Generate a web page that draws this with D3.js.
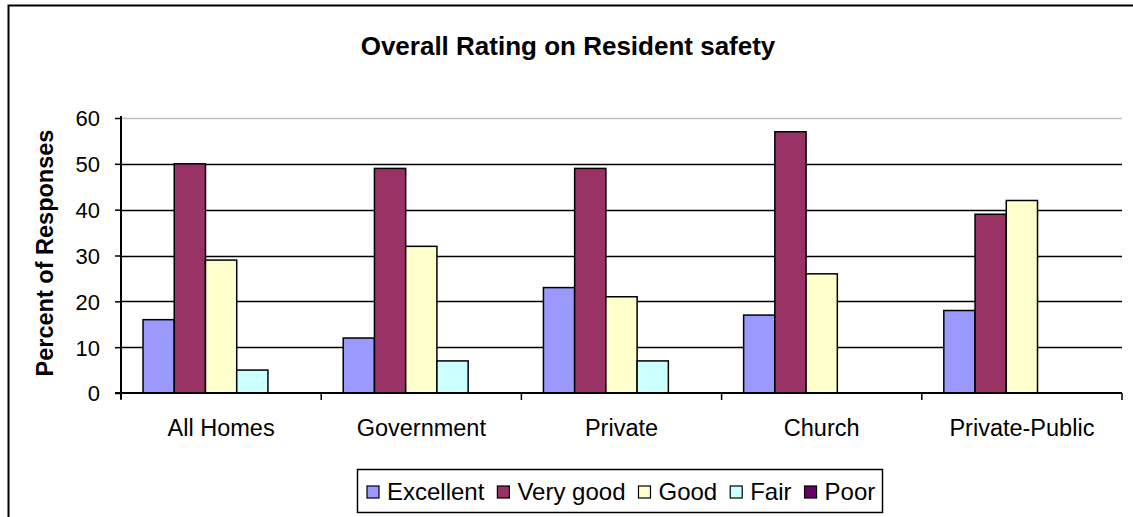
<!DOCTYPE html>
<html>
<head>
<meta charset="utf-8">
<script src="https://cdn.jsdelivr.net/npm/d3@7"></script>
<style>
  body { margin: 0; background: #fff; }
  text { font-family: "Liberation Sans", Arial, sans-serif; fill: #000; }
</style>
</head>
<body>
<script>
// chart data
const categories = ["All Homes", "Government", "Private", "Church", "Private-Public"];
const seriesNames = ["Excellent", "Very good", "Good", "Fair", "Poor"];
const excellent = [16, 12, 23, 17, 18];
const veryGood  = [50, 49, 49, 57, 39];
const good      = [29, 32, 21, 26, 42];
const fair      = [5, 7, 7, 0, 0];
const poor      = [0, 0, 0, 0, 0];
const yTicks    = [0, 10, 20, 30, 40, 50, 60];
const colors    = ["#9999FF", "#993366", "#FFFFCC", "#CCFFFF", "#660066"];

const allValues = [excellent, veryGood, good, fair, poor];

const W = 1133, H = 517;
const plotL = 121, plotR = 1122, plotT = 118, plotB = 393;

const svg = d3.select("body").append("svg")
  .attr("width", W)
  .attr("height", H);

// outer chart frame (runs off the right/bottom edge)
svg.append("rect")
  .attr("x", 8.5).attr("y", 5.5)
  .attr("width", 1140).attr("height", 530)
  .attr("fill", "#fff")
  .attr("stroke", "#000")
  .attr("stroke-width", 2);

const x0 = d3.scaleBand().domain(categories).range([plotL, plotR]);
const x1 = d3.scaleBand().domain(seriesNames)
  .range([0, x0.bandwidth()])
  .paddingOuter(0.705);
const y = d3.scaleLinear().domain([0, 60]).range([plotB, plotT]);

// plot area top border (grey)
svg.append("line")
  .attr("x1", plotL).attr("x2", plotR)
  .attr("y1", y(60) + 0.5).attr("y2", y(60) + 0.5)
  .attr("stroke", "#c0c0c0").attr("stroke-width", 1.5);

// gridlines
svg.append("g")
  .selectAll("line")
  .data(yTicks.filter(d => d > 0 && d < 60))
  .enter().append("line")
  .attr("x1", plotL).attr("x2", plotR)
  .attr("y1", d => Math.round(y(d)) + 0.5)
  .attr("y2", d => Math.round(y(d)) + 0.5)
  .attr("stroke", "#000").attr("stroke-width", 1.5);

// bars
const rows = [];
categories.forEach((c, i) => {
  seriesNames.forEach((s, j) => {
    rows.push({cat: c, ser: s, val: allValues[j][i], col: colors[j]});
  });
});

svg.append("g")
  .selectAll("rect")
  .data(rows.filter(d => d.val > 0))
  .enter().append("rect")
  .attr("x", d => x0(d.cat) + x1(d.ser))
  .attr("y", d => y(d.val))
  .attr("width", x1.bandwidth())
  .attr("height", d => y(0) - y(d.val))
  .attr("fill", d => d.col)
  .attr("stroke", "#000")
  .attr("stroke-width", 1.5);

// y axis
const yAxis = d3.axisLeft(y).tickValues(yTicks).tickSize(6).tickPadding(15);
const gy = svg.append("g")
  .attr("transform", "translate(" + plotL + ",0)")
  .call(yAxis);
gy.select(".domain").attr("stroke", "#000").attr("stroke-width", 2)
  .attr("d", "M0," + (plotT - 2) + "V" + (plotB + 6));
gy.selectAll(".tick line").attr("stroke", "#000").attr("stroke-width", 1.5);
gy.selectAll(".tick text")
  .style("font-family", "Liberation Sans, Arial, sans-serif")
  .style("font-size", "22px")
  .attr("dy", "0.36em");

// x axis
const gx = svg.append("g")
  .attr("transform", "translate(0," + plotB + ")");
gx.append("line")
  .attr("x1", plotL - 6).attr("x2", plotR)
  .attr("stroke", "#000").attr("stroke-width", 2);
gx.selectAll(".xtick")
  .data(categories.map(c => x0(c)).concat([plotR]))
  .enter().append("line")
  .attr("x1", d => d).attr("x2", d => d)
  .attr("y1", 0).attr("y2", 7)
  .attr("stroke", "#000").attr("stroke-width", 1.5);
gx.selectAll(".xlab")
  .data(categories)
  .enter().append("text")
  .attr("x", d => x0(d) + x0.bandwidth() / 2)
  .attr("y", 43)
  .attr("text-anchor", "middle")
  .style("font-size", "23.5px")
  .text(d => d);

// title
svg.append("text")
  .attr("x", 568).attr("y", 55)
  .attr("text-anchor", "middle")
  .style("font-size", "26px")
  .style("font-weight", "bold")
  .text("Overall Rating on Resident safety");

// y axis title
svg.append("text")
  .attr("transform", "translate(53,253) rotate(-90)")
  .attr("text-anchor", "middle")
  .style("font-size", "23.5px")
  .style("font-weight", "bold")
  .text("Percent of Responses");

// legend
const lg = svg.append("g");
lg.append("rect")
  .attr("x", 357.5).attr("y", 469.5)
  .attr("width", 525).attr("height", 43)
  .attr("fill", "#fff").attr("stroke", "#000").attr("stroke-width", 1.5);

let lx = 367;
seriesNames.forEach((s, j) => {
  lg.append("rect")
    .attr("x", lx).attr("y", 486)
    .attr("width", 12).attr("height", 12)
    .attr("fill", colors[j]).attr("stroke", "#000").attr("stroke-width", 1.2);
  const t = lg.append("text")
    .attr("x", lx + 20).attr("y", 500)
    .style("font-size", "24px")
    .text(s);
  lx += 20 + t.node().getComputedTextLength() + 13;
});
</script>
</body>
</html>
